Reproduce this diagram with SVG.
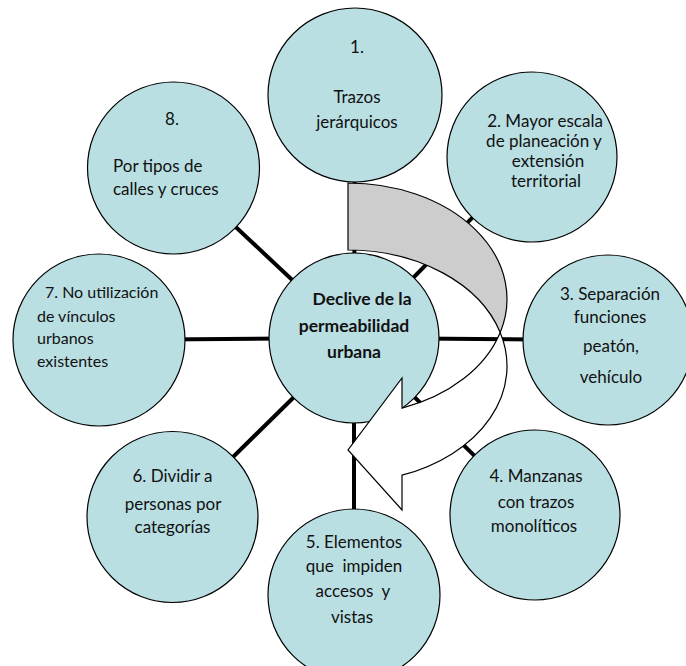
<svg xmlns="http://www.w3.org/2000/svg" width="686" height="666" viewBox="0 0 686 666">
  <style>
    .spoke { stroke: #000; stroke-width: 4; }
    .node { fill: #B9DFE3; stroke: #000; stroke-width: 1.2; }
    .t { font-family: Lato, "Liberation Sans", sans-serif; font-size: 17px; fill: #111; }
    .m { text-anchor: middle; }
    .s { font-size: 16px; }
    .b { font-weight: bold; font-size: 17.5px; }
    .back { fill: #CDCDCD; stroke: #000; stroke-width: 1.2; stroke-linejoin: miter; }
    .front { fill: #FFFFFF; stroke: #000; stroke-width: 1.2; stroke-linejoin: miter; }
  </style>
  <rect width="686" height="666" fill="#FFFFFF"/>

  <!-- spokes from the hub to every outer node -->
  <g id="connectors">
    <line class="spoke" x1="354" y1="338" x2="355" y2="95"/>
    <line class="spoke" x1="354" y1="338" x2="532" y2="157"/>
    <line class="spoke" x1="354" y1="338" x2="608" y2="340"/>
    <line class="spoke" x1="354" y1="338" x2="535" y2="515"/>
    <line class="spoke" x1="354" y1="338" x2="354" y2="595"/>
    <line class="spoke" x1="354" y1="338" x2="172" y2="517"/>
    <line class="spoke" x1="354" y1="338" x2="99" y2="340"/>
    <line class="spoke" x1="354" y1="338" x2="173" y2="168"/>
  </g>

  <g id="node-1">
    <circle class="node" cx="355" cy="95" r="87"/>
    <text class="t m" x="357" y="53">1.</text>
    <text class="t m" x="357" y="103">Trazos</text>
    <text class="t m" x="357" y="128">jerárquicos</text>
  </g>

  <g id="node-2">
    <circle class="node" cx="532" cy="157" r="85"/>
    <text class="t m" x="545" y="127" font-size="16.5">2. Mayor escala</text>
    <text class="t m" x="544" y="147" font-size="16.5">de planeación y</text>
    <text class="t m" x="548" y="167" font-size="16.5">extensión</text>
    <text class="t m" x="546" y="187" font-size="16.5">territorial</text>
  </g>

  <g id="node-3">
    <circle class="node" cx="608" cy="340" r="85"/>
    <text class="t m" x="610" y="300">3. Separación</text>
    <text class="t m" x="610" y="323">funciones</text>
    <text class="t m" x="611" y="352">peatón,</text>
    <text class="t m" x="611" y="383">vehículo</text>
  </g>

  <g id="node-4">
    <circle class="node" cx="535" cy="515" r="85"/>
    <text class="t m" x="536" y="482">4. Manzanas</text>
    <text class="t m" x="536" y="508">con trazos</text>
    <text class="t m" x="534" y="532">monolíticos</text>
  </g>

  <g id="node-5">
    <circle class="node" cx="354" cy="595" r="86"/>
    <text class="t m" x="354" y="548">5. Elementos</text>
    <text class="t m" x="354" y="572" xml:space="preserve">que  impiden</text>
    <text class="t m" x="353" y="597" xml:space="preserve">accesos  y</text>
    <text class="t m" x="352" y="623">vistas</text>
  </g>

  <g id="node-6">
    <circle class="node" cx="172.5" cy="517" r="85.5"/>
    <text class="t m" x="172.5" y="482">6. Dividir a</text>
    <text class="t m" x="173" y="510">personas por</text>
    <text class="t m" x="172.5" y="533">categorías</text>
  </g>

  <g id="node-7">
    <circle class="node" cx="99" cy="340" r="86"/>
    <text class="t s" x="45" y="298">7. No utilización</text>
    <text class="t s" x="37" y="322">de vínculos</text>
    <text class="t s" x="37" y="344">urbanos</text>
    <text class="t s" x="37" y="367">existentes</text>
  </g>

  <g id="node-8">
    <circle class="node" cx="173.5" cy="168" r="86"/>
    <text class="t m" x="172" y="125">8.</text>
    <text class="t" x="113" y="172">Por tipos de</text>
    <text class="t" x="113" y="195">calles y cruces</text>
  </g>

  <g id="node-hub">
    <circle class="node" cx="354" cy="338" r="85"/>
    <text class="t m b" x="362" y="305">Declive de la</text>
    <text class="t m b" x="354" y="332">permeabilidad</text>
    <text class="t m b" x="354" y="358">urbana</text>
  </g>

  <!-- curved arrow sweeping round the hub, pointing left -->
  <g id="curved-arrow">
    <path class="back" d="M348,183 A159,116 0 0 1 500.2,332.5 A159,116 0 0 0 348,250 Z"/>
    <path class="front" d="M500.2,332.5 A159,116 0 0 1 402,475.2 L402,510 L348,450 L402,378 L402,408.2 A159,116 0 0 0 500.2,332.5 Z"/>
  </g>
</svg>
